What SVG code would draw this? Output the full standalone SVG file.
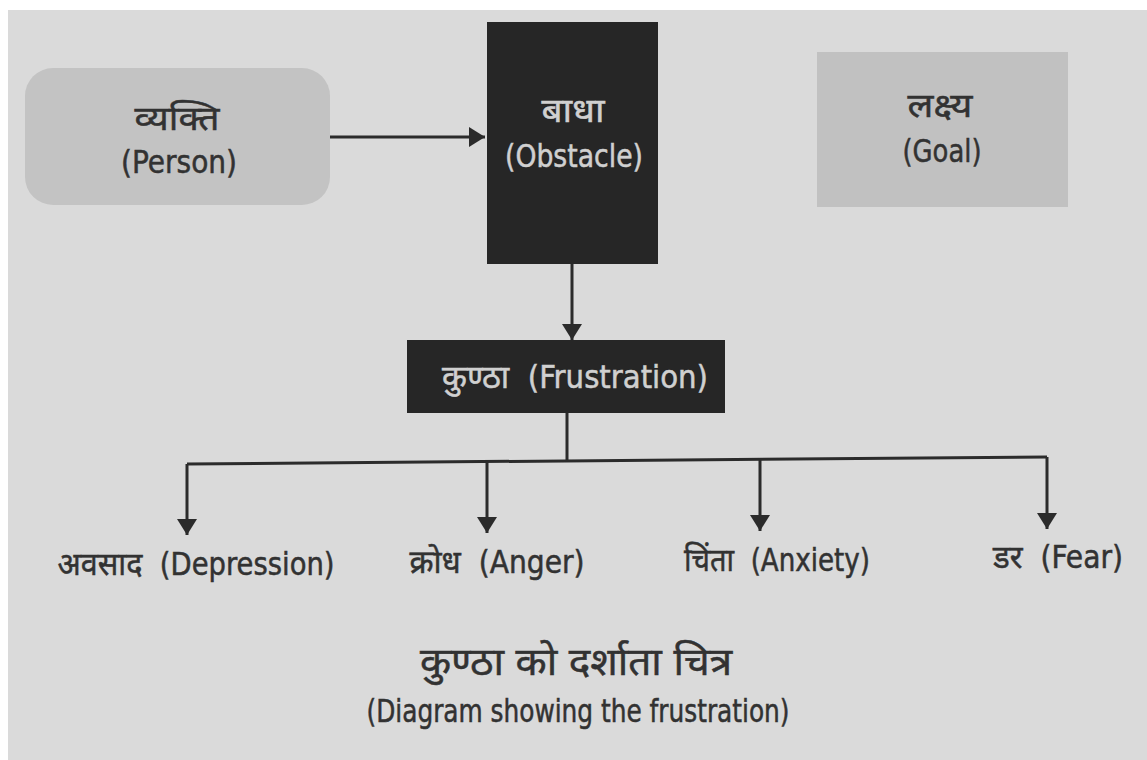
<svg xmlns="http://www.w3.org/2000/svg" width="1147" height="760" viewBox="0 0 1147 760">
<defs>
<marker id="ahd" viewBox="0 0 16 20" refX="16" refY="10" markerWidth="16" markerHeight="20" markerUnits="userSpaceOnUse" orient="auto">
<path d="M0,0 L16,10 L0,20 z" fill="#2b2b2b"/>
</marker>
</defs>
<style>
text{font-family:"DejaVu Sans Condensed","Noto Sans","Noto Sans CJK SC",sans-serif;font-stretch:condensed;fill:#323232;stroke:#323232;stroke-width:0.5;text-anchor:middle}
.lt{fill:#d0d0d0;stroke:#d0d0d0}
.c{stroke:#2b2b2b;stroke-width:3;fill:none}
</style>
<rect x="0" y="0" width="1147" height="760" fill="#ffffff"/>
<rect x="8" y="10" width="1139" height="750" fill="#dadada"/>
<g id="person">
<rect x="25" y="68" width="305" height="137" rx="28" fill="#c3c3c3"/>
<text x="177" y="130" font-size="34" textLength="85" lengthAdjust="spacingAndGlyphs">व्यक्ति</text>
<text x="179" y="173" font-size="32" textLength="116" lengthAdjust="spacingAndGlyphs">(Person)</text>
</g>
<g id="obstacle">
<rect x="487" y="22" width="171" height="242" fill="#262626"/>
<text class="lt" x="573" y="122" font-size="34" textLength="63" lengthAdjust="spacingAndGlyphs">बाधा</text>
<text class="lt" x="574" y="167" font-size="32" textLength="138" lengthAdjust="spacingAndGlyphs">(Obstacle)</text>
</g>
<g id="goal">
<rect x="817" y="52" width="251" height="155" fill="#c1c1c1"/>
<text x="940" y="117" font-size="34" textLength="65" lengthAdjust="spacingAndGlyphs">लक्ष्य</text>
<text x="942" y="162" font-size="32" textLength="79" lengthAdjust="spacingAndGlyphs">(Goal)</text>
</g>
<g id="frustration">
<rect x="407" y="340" width="318" height="73" fill="#262626"/>
<text class="lt" x="575" y="388" font-size="32" textLength="266" lengthAdjust="spacingAndGlyphs">कुण्ठा&#160; (Frustration)</text>
</g>
<g id="depression"><text x="196" y="575" font-size="32" textLength="277" lengthAdjust="spacingAndGlyphs">अवसाद&#160; (Depression)</text></g>
<g id="anger"><text x="497" y="573" font-size="32" textLength="175" lengthAdjust="spacingAndGlyphs">क्रोध&#160; (Anger)</text></g>
<g id="anxiety"><text x="777" y="571" font-size="32" textLength="186" lengthAdjust="spacingAndGlyphs">चिंता&#160; (Anxiety)</text></g>
<g id="fear"><text x="1058" y="568" font-size="32" textLength="130" lengthAdjust="spacingAndGlyphs">डर&#160; (Fear)</text></g>
<g id="caption">
<text x="576" y="675" font-size="38" textLength="312" lengthAdjust="spacingAndGlyphs">कुण्ठा को दर्शाता चित्र</text>
<text x="578" y="722" font-size="32" textLength="423" lengthAdjust="spacingAndGlyphs">(Diagram showing the frustration)</text>
</g>
<g id="connectors">
<line class="c" x1="330" y1="137" x2="485" y2="137" marker-end="url(#ahd)"/>
<line class="c" x1="572" y1="264" x2="572" y2="340" marker-end="url(#ahd)"/>
<line class="c" x1="567" y1="413" x2="567" y2="462"/>
<polyline class="c" points="187,464 1047,457"/>
<line class="c" x1="187" y1="464" x2="187" y2="535" marker-end="url(#ahd)"/>
<line class="c" x1="487" y1="462" x2="487" y2="533" marker-end="url(#ahd)"/>
<line class="c" x1="760" y1="460" x2="760" y2="531" marker-end="url(#ahd)"/>
<line class="c" x1="1047" y1="457" x2="1047" y2="529" marker-end="url(#ahd)"/>
</g>
</svg>
